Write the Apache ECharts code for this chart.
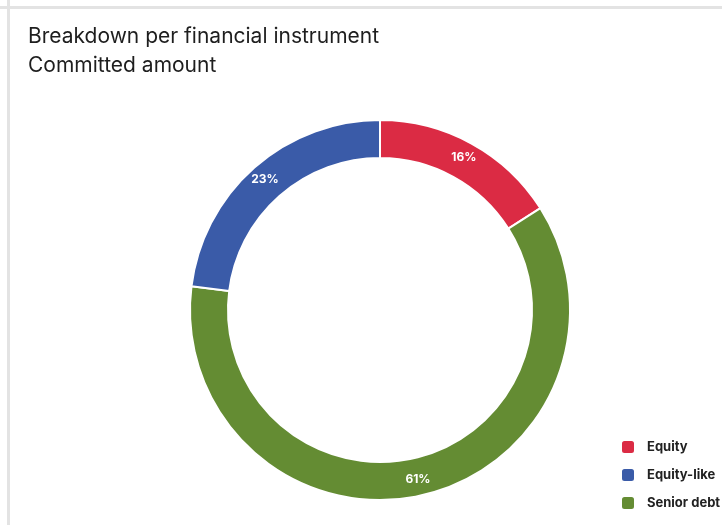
<!DOCTYPE html>
<html>
<head>
<meta charset="utf-8">
<script src="https://cdn.jsdelivr.net/npm/echarts@6/dist/echarts.min.js"></script>
<style>
  html, body { margin: 0; padding: 0; background: #fff; }
  #wrap { position: relative; width: 722px; height: 525px; overflow: hidden; }
  #frameTop { position: absolute; left: 0; top: 6px; width: 722px; height: 3px; background: #e3e3e3; }
  #frameLeft { position: absolute; left: 7px; top: 0; width: 3px; height: 525px; background: #e3e3e3; }
  #chart { position: absolute; left: 0; top: 0; width: 722px; height: 525px; }
</style>
</head>
<body>
<div id="wrap">
  <div id="frameTop"></div>
  <div id="frameLeft"></div>
  <div id="chart"></div>
</div>
<script>
// Share of committed amount by financial instrument (percent)
const instruments = ['Equity', 'Senior debt', 'Equity-like'];
const shares = [16, 61, 23];
const colors = ['#db2b44', '#648c33', '#3a5ba8'];
const legendOrder = ['Equity', 'Equity-like', 'Senior debt'];
const titleLines = ['Breakdown per financial instrument', 'Committed amount'];

const chart = echarts.init(document.getElementById('chart'), null, { renderer: 'canvas' });

chart.setOption({
  animation: false,
  title: {
    text: titleLines.join('\n'),
    left: 28,
    top: 22,
    padding: 0,
    textStyle: {
      fontFamily: 'Inter',
      fontWeight: 'normal',
      fontSize: 21,
      lineHeight: 29,
      color: '#1e1e1e'
    }
  },
  legend: {
    data: legendOrder,
    orient: 'vertical',
    left: 620,
    top: 439,
    padding: 0,
    itemWidth: 14,
    itemHeight: 14,
    itemGap: 12,
    icon: 'roundRect',
    textStyle: {
      fontFamily: 'Inter',
      fontWeight: 'bold',
      fontSize: 13,
      color: '#222',
      padding: [0, 0, 0, 7]
    }
  },
  series: [{
    type: 'pie',
    center: [380, 310],
    radius: [152, 190],
    startAngle: 90,
    clockwise: true,
    avoidLabelOverlap: false,
    itemStyle: { borderColor: '#fff', borderWidth: 2 },
    label: {
      show: true,
      position: 'inside',
      formatter: '{c}%',
      color: '#fff',
      fontFamily: 'Inter',
      fontWeight: 'bold',
      fontSize: 12
    },
    labelLine: { show: false },
    emphasis: { disabled: true },
    data: instruments.map((name, i) => ({
      name: name,
      value: shares[i],
      itemStyle: { color: colors[i] }
    }))
  }]
});
</script>
</body>
</html>
